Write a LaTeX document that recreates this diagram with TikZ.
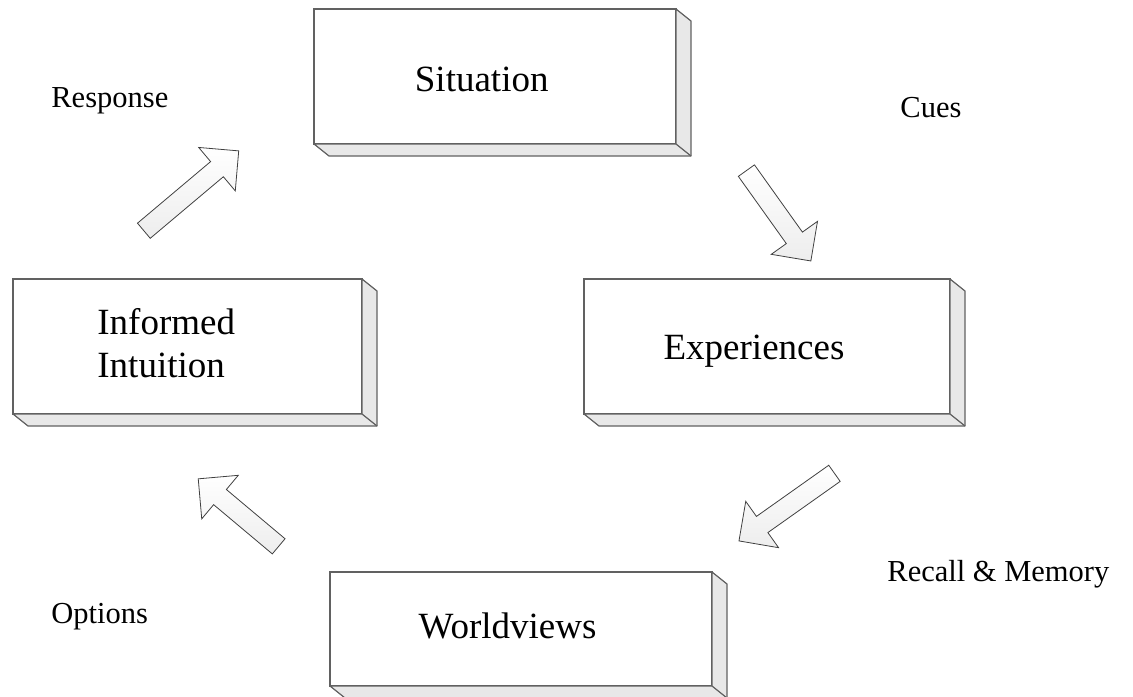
\documentclass[tikz,border=0pt]{standalone}
\usepackage{fontspec}
\setmainfont{Liberation Serif}
\usetikzlibrary{
    positioning,                      % colocacion relativa
    calc,                             % aritmetica de coordenadas
    shapes.arrows                     % flechas de bloque (single arrow)
}
\tikzset{
    caja/.style={
        draw=black!62, fill=white, line width=0.6pt,
        inner sep=0pt, outer sep=0pt
    },
    lado/.style={
        draw=black!62, fill=black!9, line width=0.6pt, line join=round
    },
    flecha/.style={
        single arrow, draw=black!75, line width=0.4pt,
        top color=white, bottom color=black!7,
        inner sep=4.75pt, outer sep=0pt,
        single arrow head extend=9.25pt, single arrow tip angle=90
    }
}
% cara inferior y lateral de una caja "3D"
\newcommand\ladocaja[1]{%
    \filldraw[lado] (#1.south west) -- ++(15,12) -| ($(#1.north east)+(15,12)$)
        -- (#1.north east) -- (#1.south east) -- cycle;
    \draw[lado] (#1.south east) -- ++(15,12);
}

\begin{document}
\begin{tikzpicture}[
      x=0.5pt, y=-0.5pt,
      txt/.style={font=\fontsize{18.5}{21.5}\selectfont, inner sep=0pt},
      lbl/.style={font=\fontsize{15.25}{18}\selectfont, inner sep=0pt, anchor=base west}
    ]

    \useasboundingbox (0,0) rectangle (1133,696);

    % --- Cajas ---
    \node[caja, minimum width=181pt,   minimum height=67.5pt] (sit) at (495,76.5)   {};
    \node[caja, minimum width=183pt,   minimum height=67.5pt] (exp) at (767,346.5)  {};
    \node[caja, minimum width=174.5pt, minimum height=67.5pt] (int) at (187.5,346.5) {};
    \node[caja, minimum width=191pt,   minimum height=57pt]   (wor) at (521,629)    {};

    \ladocaja{sit}
    \ladocaja{exp}
    \ladocaja{int}
    \ladocaja{wor}

    % --- Textos de las cajas ---
    \node[txt, anchor=base] (sit-t) at (481.7,91) {Situation};
    \node[txt, anchor=base] (exp-t) at (754,359)  {Experiences};
    \node[txt, anchor=north west, align=left] (int-t) at (97,308) {Informed\\Intuition};
    \node[txt, anchor=base] (wor-t) at (507.5,638) {Worldviews};

    % --- Flechas del ciclo ---
    \node[flecha, minimum height=62pt,   rotate=40.1]  (f-resp) at (187.5,194)     {};
    \node[flecha, minimum height=55.5pt, rotate=-54.5] (f-cues) at (775.75,211.75) {};
    \node[flecha, minimum height=58.5pt, rotate=215.3] (f-rec)  at (790.75,504.25) {};
    \node[flecha, minimum height=52.5pt, rotate=140]   (f-opt)  at (242.25,515.75) {};

    % --- Etiquetas ---
    \node[lbl] (resp) at (51,107)  {Response};
    \node[lbl] (cues) at (900,117) {Cues};
    \node[lbl] (rec)  at (887,581) {Recall \& Memory};
    \node[lbl] (opt)  at (51,623)  {Options};

\end{tikzpicture}
\end{document}
